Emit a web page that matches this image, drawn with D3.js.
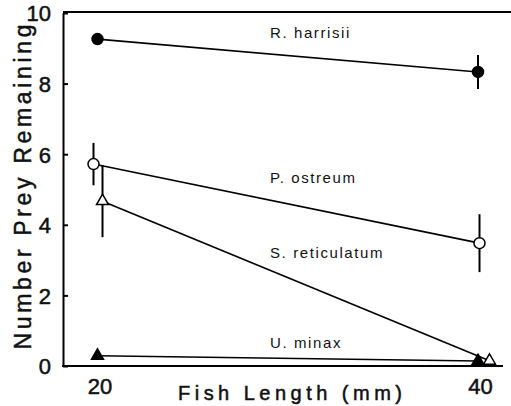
<!DOCTYPE html>
<head>
<meta charset="utf-8">
<style>
body { margin: 0; background: #fff; }
svg { display: block; font-family: "Liberation Sans", Arial, sans-serif; }
.axis path, .axis line { fill: none; stroke: #000; stroke-width: 2; }
.tick text { font-size: 22px; fill: #111; stroke: #111; stroke-width: 0.5; }
.title { fill: #111; stroke: #111; stroke-width: 0.5; }
</style>
<script src="https://cdn.jsdelivr.net/npm/d3@7"></script>
</head>
<body>
<div id="chart"></div>
<script>

// data
var lengths = [20, 40];
var species = ["R. harrisii", "P. ostreum", "S. reticulatum", "U. minax"];
var harrisii = [9.26, 8.33], harrisiiErr = [0, 0.48];
var ostreum = [5.72, 3.48], ostreumErr = [0.6, 0.82];
var reticulatum = [4.67, 0.15], reticulatumErr = [1.02, 0];
var minax = [0.29, 0.14], minaxErr = [0, 0];
var yTicks = [0, 2, 4, 6, 8, 10];
var xTicks = [20, 40];

var series = [
  {name: species[0], vals: harrisii, err: harrisiiErr, shape: d3.symbolCircle, fill: "#000", nudge: [0, 0], label: 38},
  {name: species[1], vals: ostreum, err: ostreumErr, shape: d3.symbolCircle, fill: "#fff", nudge: [-4, 1.5], label: 183},
  {name: species[2], vals: reticulatum, err: reticulatumErr, shape: d3.symbolTriangle, fill: "#fff", nudge: [5, 11.5], label: 258},
  {name: species[3], vals: minax, err: minaxErr, shape: d3.symbolTriangle, fill: "#000", nudge: [0, 0], label: 348}
];

var width = 511, height = 406;

var x = d3.scaleLinear().domain([20, 40]).range([97.5, 478]);
var y = d3.scaleLinear().domain([0, 10]).range([366, 13]);

var svg = d3.select("#chart").append("svg")
    .attr("width", width)
    .attr("height", height);

// frame: top line and bottom axis line
svg.append("line")
    .attr("x1", 63).attr("x2", 511).attr("y1", 12).attr("y2", 12)
    .attr("stroke", "#000").attr("stroke-width", 2);
svg.append("line")
    .attr("x1", 62).attr("x2", 503).attr("y1", 366).attr("y2", 366)
    .attr("stroke", "#000").attr("stroke-width", 2);

svg.append("g")
    .attr("class", "axis")
    .attr("transform", "translate(63,0)")
    .call(d3.axisLeft(y).tickValues(yTicks).tickSize(-5).tickPadding(12).tickSizeOuter(0))
  .call(function(g) { g.selectAll(".tick text").attr("dy", "0.36em"); });

svg.append("g")
    .attr("class", "axis")
    .attr("transform", "translate(2,366)")
    .call(d3.axisBottom(x).tickValues(xTicks).tickSize(0).tickPadding(12))
  .call(function(g) { g.select(".domain").remove(); });

svg.append("text")
    .attr("class", "title")
    .attr("x", 290).attr("y", 400)
    .attr("text-anchor", "middle")
    .attr("font-size", 20)
    .attr("textLength", 224)
    .attr("lengthAdjust", "spacing")
    .text("Fish Length (mm)");

svg.append("text")
    .attr("class", "title")
    .attr("transform", "translate(31,187) rotate(-90)")
    .attr("text-anchor", "middle")
    .attr("font-size", 23)
    .attr("textLength", 325)
    .attr("lengthAdjust", "spacing")
    .text("Number Prey Remaining");

series.forEach(function(s) {
  var pts = s.vals.map(function(v, i) {
    return {px: x(lengths[i]) + s.nudge[i], v: v, e: s.err[i]};
  });

  svg.selectAll(null)
    .data(pts.filter(function(p) { return p.e > 0; }))
    .enter().append("line")
      .attr("x1", function(p) { return p.px; })
      .attr("x2", function(p) { return p.px; })
      .attr("y1", function(p) { return y(p.v + p.e); })
      .attr("y2", function(p) { return y(p.v - p.e); })
      .attr("stroke", "#000").attr("stroke-width", 2);

  svg.append("path")
    .datum(pts)
    .attr("fill", "none")
    .attr("stroke", "#000")
    .attr("stroke-width", 1.6)
    .attr("d", d3.line().x(function(p) { return p.px; }).y(function(p) { return y(p.v); }));

  svg.selectAll(null)
    .data(pts)
    .enter().append("path")
      .attr("transform", function(p) { return "translate(" + p.px + "," + y(p.v) + ")"; })
      .attr("d", d3.symbol().type(s.shape).size(s.shape === d3.symbolCircle ? 95 : 62))
      .attr("fill", s.fill)
      .attr("stroke", "#000")
      .attr("stroke-width", 1.5);

  svg.append("text")
    .attr("x", 270).attr("y", s.label)
    .attr("font-size", 15)
    .attr("letter-spacing", 1.6)
    .attr("fill", "#111")
    .text(s.name);
});

</script>
</body>
